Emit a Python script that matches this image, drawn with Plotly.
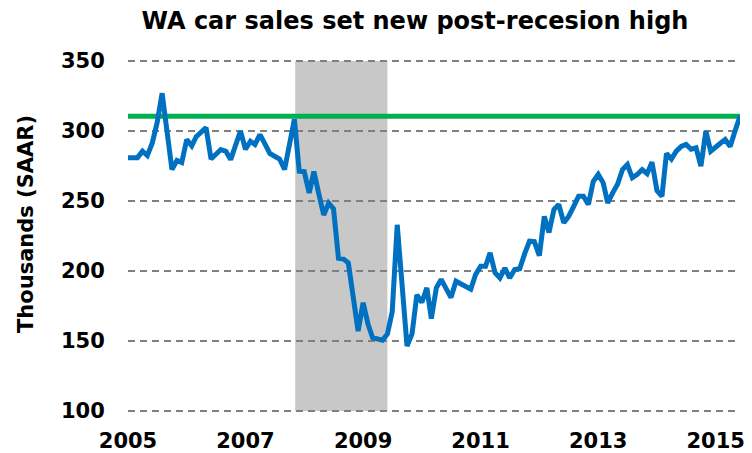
import pandas as pd
import plotly.graph_objects as go

# ── Data ─────────────────────────────────────────────────────────────────────
months = pd.date_range("2005-01-01", periods=126, freq="MS")

# WA car sales, thousands (SAAR), monthly Jan 2005 – Jun 2015
car_sales = [
    281, 281, 281, 285.6, 282.5, 291.5, 306, 327, 300, 272.5,
    279, 277.5, 294, 289.5, 296, 299, 302.5, 280, 283.5, 286.8,
    285.6, 279.6, 290, 300, 287, 292.7, 290.4, 297.5, 291, 284,
    282, 280, 272.5, 290, 308.5, 271.3, 271, 255.8, 271, 255,
    240, 248.5, 244.5, 209, 208.5, 205.8, 182, 157, 177.3, 161.8,
    152.3, 151.5, 150.5, 155, 171, 233, 190, 146.3, 155, 183,
    177.5, 188, 166, 188, 194, 188, 181, 192.7, 191, 189.5,
    187, 197.5, 203.4, 203.4, 213, 198.7, 195, 202, 195, 201,
    201.6, 212, 221.3, 221, 211, 239, 227.5, 243.9, 247.5, 234.4,
    239, 246, 253.4, 253.4, 247.5, 264, 269, 263, 248.7, 255.8,
    262, 272.5, 276, 266.6, 269, 272.5, 269.5, 277.8, 257.5, 253.4,
    284, 280, 285.6, 289, 290.4, 287, 288, 275, 300, 285.6,
    289, 291.5, 293.9, 289, 300, 310.6,
]

post_recession_high = 310.6

recession_start = "2007-11-06"
recession_end = "2009-06-01"

tick_years = ["2005-01-01", "2007-01-01", "2009-01-01",
              "2011-01-01", "2013-01-01", "2015-01-01"]
tick_text = ["2005", "2007", "2009", "2011", "2013", "2015"]

# ── Styles ───────────────────────────────────────────────────────────────────
FONT = "DejaVu Sans, Verdana, sans-serif"
BLUE = "#0070c0"
GREEN = "#00b050"
GRID = "#808080"
SHADE = "#c8c8c8"

# page body has an 8px margin, so the figure is sized to fit inside it
W, H = 744, 445

fig = go.Figure()

# recession shading (below gridlines)
fig.add_shape(
    type="rect", xref="x", yref="y",
    x0=recession_start, x1=recession_end, y0=100, y1=350,
    fillcolor=SHADE, line_width=0, layer="below",
)

# post-recession high reference
fig.add_trace(go.Scatter(
    x=[months[0], months[-1]],
    y=[post_recession_high, post_recession_high],
    mode="lines",
    line=dict(color=GREEN, width=5),
    hoverinfo="skip",
))

fig.add_trace(go.Scatter(
    x=months,
    y=car_sales,
    mode="lines",
    line=dict(color=BLUE, width=5),
))

# y-axis title as an annotation so it can sit a little above centre
fig.add_annotation(
    text="Thousands (SAAR)",
    xref="paper", yref="paper",
    x=-102 / 612, y=(445 - 40 - 216) / 354,
    xanchor="center", yanchor="middle",
    textangle=-90, showarrow=False,
    font=dict(size=21, family=FONT, weight="bold"),
)

fig.update_layout(
    width=W, height=H,
    margin=dict(l=120, r=12, t=51, b=40),
    plot_bgcolor="white",
    paper_bgcolor="white",
    showlegend=False,
    font=dict(family=FONT, color="black"),
    title=dict(
        text="WA car sales set new post-recesion high",
        x=407 / W, xanchor="center",
        y=1 - 13 / H, yanchor="middle",
        font=dict(size=24, family=FONT, weight="bold"),
    ),
    xaxis=dict(
        type="date",
        range=[months[0], months[-1]],
        tickvals=tick_years,
        ticktext=tick_text,
        tickfont=dict(size=21, family=FONT, weight="bold"),
        showgrid=False,
        zeroline=False,
        showline=False,
        automargin=False,
        ticks="outside",
        ticklen=9,
        tickcolor="rgba(0,0,0,0)",
    ),
    yaxis=dict(
        # padded so the 100 / 350 gridlines are not clipped at the edges
        range=[98.5, 351.5],
        tickvals=[100, 150, 200, 250, 300, 350],
        tickfont=dict(size=21, family=FONT, weight="bold"),
        showgrid=True,
        gridcolor=GRID,
        gridwidth=2,
        griddash="7px,5px",
        zeroline=False,
        showline=False,
        automargin=False,
        ticks="outside",
        ticklen=18,
        tickcolor="rgba(0,0,0,0)",
    ),
)

fig.write_html("out.html")
